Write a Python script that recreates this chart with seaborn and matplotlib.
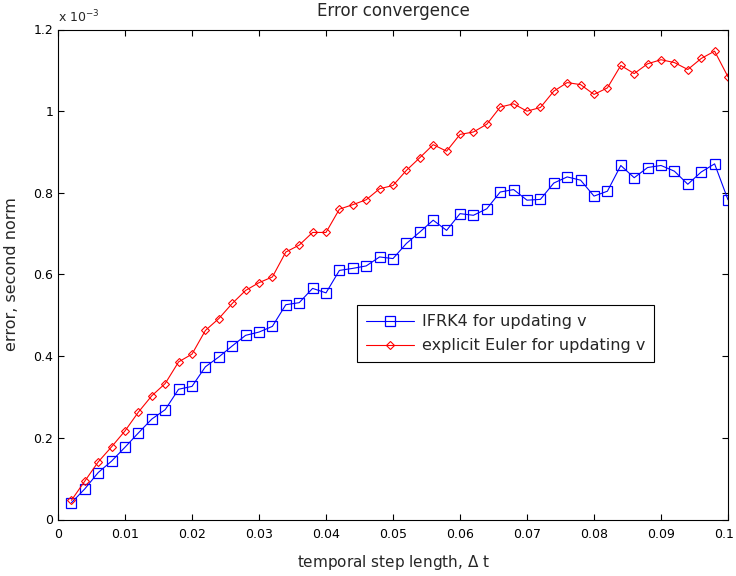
import numpy as np
import pandas as pd
import matplotlib
matplotlib.use("Agg")
import matplotlib.pyplot as plt
from matplotlib.ticker import FuncFormatter, MultipleLocator
import seaborn as sns

# temporal step lengths
dt = [0.002 * k for k in range(1, 51)]

# second-norm error (units of 1e-3), IFRK4 update of v
err_ifrk4 = [0.041, 0.075, 0.115, 0.143, 0.177, 0.212, 0.246, 0.269, 0.319, 0.326,
             0.374, 0.398, 0.425, 0.451, 0.459, 0.473, 0.526, 0.531, 0.566, 0.555,
             0.610, 0.615, 0.621, 0.643, 0.639, 0.676, 0.704, 0.733, 0.708, 0.749,
             0.745, 0.761, 0.802, 0.808, 0.782, 0.784, 0.824, 0.839, 0.831, 0.792,
             0.804, 0.867, 0.837, 0.862, 0.867, 0.853, 0.821, 0.851, 0.871, 0.783]

# second-norm error (units of 1e-3), explicit Euler update of v
err_euler = [0.047, 0.094, 0.141, 0.178, 0.217, 0.263, 0.303, 0.333, 0.386, 0.405,
             0.463, 0.492, 0.529, 0.561, 0.580, 0.594, 0.655, 0.672, 0.703, 0.703,
             0.760, 0.771, 0.783, 0.810, 0.818, 0.855, 0.886, 0.918, 0.902, 0.943,
             0.949, 0.968, 1.010, 1.018, 1.000, 1.009, 1.049, 1.070, 1.065, 1.041,
             1.057, 1.112, 1.092, 1.116, 1.126, 1.119, 1.102, 1.129, 1.147, 1.084]

labels = ["IFRK4 for updating v", "explicit Euler for updating v"]

X_MAX = 0.1

sns.set_style("ticks")
plt.rcParams["font.family"] = ["DejaVu Sans"]
plt.rcParams["mathtext.fontset"] = "dejavusans"

df = pd.DataFrame({"dt": dt,
                   "ifrk4": np.array(err_ifrk4) * 1e-3,
                   "euler": np.array(err_euler) * 1e-3})

fig = plt.figure(figsize=(7.36, 5.76), dpi=100, facecolor="white")
ax = fig.add_axes([58 / 736, 1 - 519.5 / 576, 670 / 736, 490 / 576])

sns.lineplot(data=df, x="dt", y="ifrk4", ax=ax, color="#0000ff", linewidth=0.8,
             marker="s", markersize=6.5, markerfacecolor="none",
             markeredgecolor="#0000ff", markeredgewidth=0.9, label=labels[0])
sns.lineplot(data=df, x="dt", y="euler", ax=ax, color="#ff0000", linewidth=0.8,
             marker="D", markersize=4, markerfacecolor="none",
             markeredgecolor="#ff0000", markeredgewidth=0.8, label=labels[1])

ax.set_xlim(0, X_MAX)
ax.set_ylim(0, 1.2e-3)
ax.xaxis.set_major_locator(MultipleLocator(0.01))
ax.yaxis.set_major_locator(MultipleLocator(0.2e-3))


def x_fmt(v, p):
    # the label at the right edge is drawn separately, nudged inside the canvas
    if abs(v - X_MAX) < 1e-9:
        return ""
    return f"{round(v, 4):g}"


ax.xaxis.set_major_formatter(FuncFormatter(x_fmt))
ax.yaxis.set_major_formatter(FuncFormatter(lambda v, p: f"{round(v * 1e3, 4):g}"))

for side in ["top", "right", "bottom", "left"]:
    ax.spines[side].set_visible(True)
    ax.spines[side].set_linewidth(0.8)
    ax.spines[side].set_color("black")
ax.tick_params(which="both", direction="in", top=True, right=True,
               length=4.5, width=0.8, color="black", labelsize=9, labelcolor="black")
ax.tick_params(axis="x", pad=6)
ax.tick_params(axis="y", pad=3.5)

ax.annotate(f"{X_MAX:g}", xy=(X_MAX, 0), xycoords=("data", "axes fraction"),
            xytext=(-3, -6), textcoords="offset points", ha="center", va="top",
            fontsize=9, color="black")

ax.text(0.0, 1.008, r"x 10$^{-3}$", transform=ax.transAxes, ha="left", va="bottom",
        fontsize=9)

ax.set_title("Error convergence", fontsize=12, pad=10)
ax.set_xlabel("temporal step length, $\\Delta$ t", fontsize=11, labelpad=9)
ax.set_ylabel("error, second norm", fontsize=11.5, labelpad=10)

leg = ax.legend(loc="upper left", bbox_to_anchor=(0.446, 0.437), borderaxespad=0,
                fontsize=11.5, frameon=True, fancybox=False, framealpha=1,
                edgecolor="black", handlelength=3.0, handletextpad=0.5,
                borderpad=0.55, labelspacing=0.56)
leg.get_frame().set_linewidth(0.8)

fig.savefig("out.png", dpi=100, facecolor="white")
